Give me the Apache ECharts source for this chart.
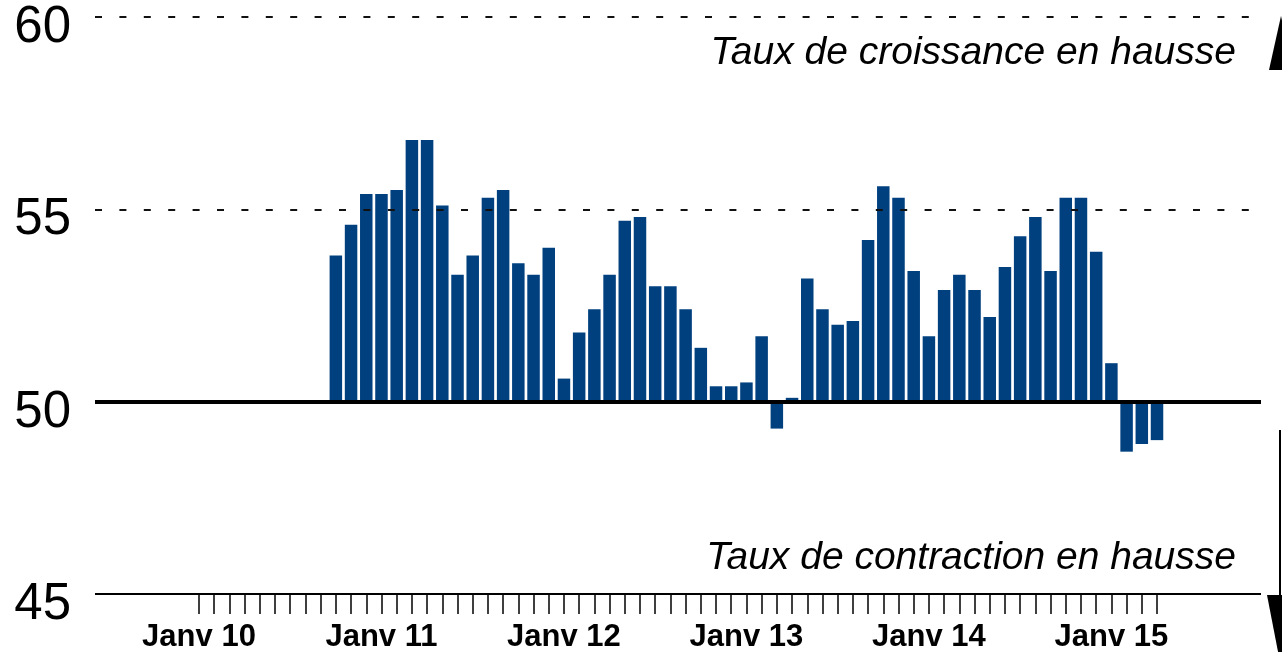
<!DOCTYPE html>
<html>
<head>
<meta charset="utf-8">
<script src="https://cdn.jsdelivr.net/npm/echarts@6/dist/echarts.min.js"></script>
<style>
  html, body { margin: 0; padding: 0; background: #fff; }
  #main { width: 1282px; height: 652px; }
</style>
</head>
<body>
<div id="main"></div>
<script>
// indice mensuel, d'oct. 2010 a avr. 2015 (mois 0 = janv. 2010)
var firstMonth = 9;
var pmiValues = [
  53.8, 54.6, 55.4, 55.4, 55.5, 56.8, 56.8, 55.1, 53.3, 53.8, 55.3, 55.5,
  53.6, 53.3, 54.0, 50.6, 51.8, 52.4, 53.3, 54.7, 54.8, 53.0, 53.0, 52.4,
  51.4, 50.4, 50.4, 50.5, 51.7, 49.3, 50.1, 53.2, 52.4, 52.0, 52.1, 54.2,
  55.6, 55.3, 53.4, 51.7, 52.9, 53.3, 52.9, 52.2, 53.5, 54.3, 54.8, 53.4,
  55.3, 55.3, 53.9, 51.0, 48.7, 48.9, 49.0
];
var yearLabels = ['Janv 10', 'Janv 11', 'Janv 12', 'Janv 13', 'Janv 14', 'Janv 15'];
var baseLevel = 50;
var upText = 'Taux de croissance en hausse';
var downText = 'Taux de contraction en hausse';

// axe des mois : de juin 2009 (-7) a oct. 2015 (69)
var months = [];
for (var m = -7; m <= 69; m++) months.push(String(m));
var lastMonth = firstMonth + pmiValues.length - 1;

var barData = months.map(function (s) {
  var i = +s - firstMonth;
  if (i < 0 || i >= pmiValues.length) return '-';
  return +(pmiValues[i] - baseLevel).toFixed(2);
});

var myChart = echarts.init(document.getElementById('main'));

var option = {
  animation: false,
  backgroundColor: '#fff',
  grid: [
    { left: 95, right: 21, top: 17, bottom: 58, outerBoundsMode: 'none' },          // lignes horizontales
    { left: 84.95, width: 1170.9, top: 17, bottom: 58, outerBoundsMode: 'none' }    // barres
  ],
  xAxis: [
    { type: 'value', gridIndex: 0, min: 0, max: 1, show: false },
    {
      type: 'category', gridIndex: 1, data: months, position: 'bottom',
      axisLine: { show: false, onZero: false },
      axisTick: {
        show: true, length: 20, alignWithLabel: true,
        interval: function (idx, val) { return +val >= 0 && +val <= lastMonth; },
        lineStyle: { color: '#000', width: 1.5 }
      },
      axisLabel: {
        interval: function (idx, val) {
          var v = +val;
          return v >= 0 && v % 12 === 0 && v / 12 < yearLabels.length;
        },
        formatter: function (val) { return yearLabels[+val / 12]; },
        margin: 28,
        color: '#000',
        fontFamily: "'Liberation Sans', Arial, sans-serif",
        fontWeight: 'bold',
        fontSize: 31
      },
      splitLine: { show: false }
    }
  ],
  yAxis: [
    {
      type: 'value', gridIndex: 0, min: -5, max: 10, interval: 5,
      axisLine: { show: false }, axisTick: { show: false }, splitLine: { show: false },
      axisLabel: {
        formatter: function (v) { return v + baseLevel; },
        color: '#000', fontSize: 51, fontFamily: "'Liberation Sans', Arial, sans-serif",
        margin: 24, verticalAlign: 'top', lineHeight: 22
      }
    },
    { type: 'value', gridIndex: 1, min: -5, max: 10, interval: 5, show: false }
  ],
  series: [
    {
      type: 'bar', xAxisIndex: 1, yAxisIndex: 1,
      data: barData, barWidth: 12.5,
      itemStyle: { color: '#00407f' }
    },
    {
      type: 'line', xAxisIndex: 0, yAxisIndex: 0, z: 5,
      data: [[0, 0], [1, 0]], showSymbol: false, silent: true,
      lineStyle: { width: 0, opacity: 0 },
      markLine: {
        silent: true, symbol: ['none', 'none'], label: { show: false },
        data: [
          { yAxis: 10, lineStyle: { color: '#111', width: 2, type: [7, 17.4] } },
          { yAxis: 5, lineStyle: { color: '#111', width: 2, type: [7, 17.4] } },
          { yAxis: 0, lineStyle: { color: '#000', width: 4, type: 'solid' } },
          { yAxis: -5, lineStyle: { color: '#000', width: 2, type: 'solid' } }
        ]
      }
    }
  ],
  graphic: [
    {
      type: 'text', right: 46, top: 34,
      style: { text: upText, fill: '#000', fontSize: 39, fontStyle: 'italic',
        fontFamily: "'Liberation Sans', Arial, sans-serif" }
    },
    {
      type: 'text', right: 46, top: 539,
      style: { text: downText, fill: '#000', fontSize: 39, fontStyle: 'italic',
        fontFamily: "'Liberation Sans', Arial, sans-serif" }
    },
    {
      type: 'polygon',
      shape: { points: [[1281, 16], [1269, 70], [1293, 70]] },
      style: { fill: '#000' }
    },
    {
      type: 'line',
      shape: { x1: 1280, y1: 430, x2: 1280, y2: 596 },
      style: { stroke: '#000', lineWidth: 2 }
    },
    {
      type: 'polygon',
      shape: { points: [[1267, 595], [1293, 595], [1280, 662]] },
      style: { fill: '#000' }
    }
  ]
};

myChart.setOption(option);
</script>
</body>
</html>
